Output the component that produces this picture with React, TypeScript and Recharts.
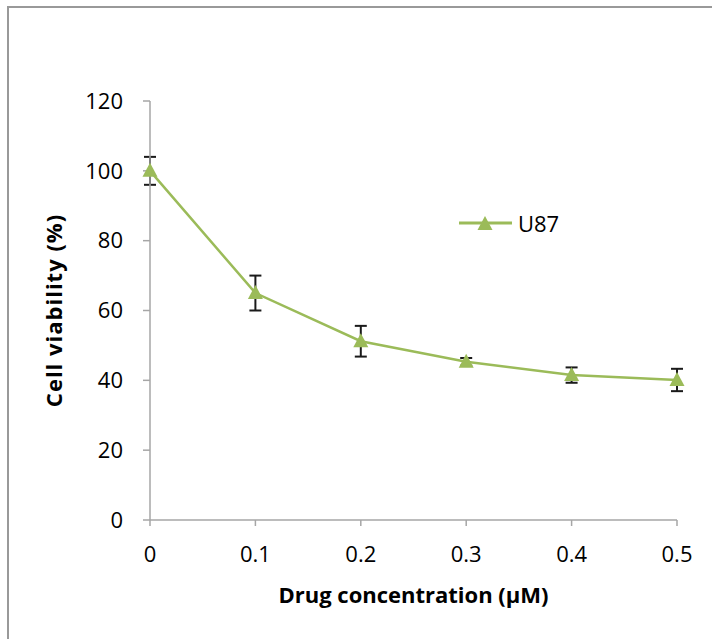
import { LineChart, Line, XAxis, YAxis, ErrorBar, Legend } from "recharts";

const concentrations = [0, 0.1, 0.2, 0.3, 0.4, 0.5];
const viability = [100, 65, 51.2, 45.3, 41.5, 40.1];
const viabilityErr = [4, 5, 4.4, 1.1, 2.2, 3.2];
const xTicks = [0, 0.1, 0.2, 0.3, 0.4, 0.5];
const yTicks = [0, 20, 40, 60, 80, 100, 120];

const data = concentrations.map((c, i) => ({
  conc: c,
  u87: viability[i],
  err: viabilityErr[i],
}));

const GREEN = "#9BBB59";
const AXIS = "#A6A6A6";
const FONT = "'Open Sans', sans-serif";

function Triangle(props: any) {
  const { cx, cy } = props;
  if (cx == null || cy == null) return null;
  return (
    <path
      d={`M${cx},${cy - 8} L${cx + 7.5},${cy + 6} L${cx - 7.5},${cy + 6} Z`}
      fill={GREEN}
      stroke="none"
    />
  );
}

function LegendBox() {
  return (
    <svg width={110} height={30}>
      <line x1={4} y1={14} x2={57} y2={14} stroke={GREEN} strokeWidth={3} />
      <path d="M30,7 L37.5,21 L22.5,21 Z" fill={GREEN} />
      <text x={63} y={23} fontSize={22} fontFamily={FONT} fill="#000">
        U87
      </text>
    </svg>
  );
}

export default function App() {
  return (
    <div
      style={{
        position: "fixed",
        left: 0,
        top: 0,
        width: 712,
        height: 639,
        overflow: "hidden",
        background: "#fff",
      }}
    >
      <div
        style={{
          position: "absolute",
          left: 7,
          top: 6,
          width: 760,
          height: 700,
          border: "2px solid #999",
        }}
      />
      <div style={{ position: "absolute", left: 0, top: 0 }}>
        <LineChart
          width={712}
          height={639}
          data={data}
          margin={{ top: 101, right: 35, bottom: 29, left: 50 }}
        >
          <XAxis
            dataKey="conc"
            type="number"
            domain={[0, 0.5]}
            ticks={xTicks}
            height={90}
            stroke={AXIS}
            strokeWidth={1.5}
            tickSize={6}
            tickMargin={20}
            tick={{ fill: "#000", fontSize: 22, fontFamily: FONT }}
            label={{
              value: "Drug concentration (μM)",
              position: "insideBottom",
              offset: 7,
              fill: "#000",
              fontSize: 22,
              fontWeight: 700,
              fontFamily: FONT,
            }}
          />
          <YAxis
            type="number"
            domain={[0, 120]}
            ticks={yTicks}
            width={100}
            stroke={AXIS}
            strokeWidth={1.5}
            tickSize={7}
            tickMargin={20}
            tick={{ fill: "#000", fontSize: 22, fontFamily: FONT }}
            label={{
              value: "Cell viability (%)",
              angle: -90,
              position: "insideLeft",
              offset: 0,
              dx: 4,
              fill: "#000",
              fontSize: 22,
              fontWeight: 700,
              fontFamily: FONT,
              style: { textAnchor: "middle", letterSpacing: 1 },
            }}
          />
          <Legend
            layout="vertical"
            align="center"
            verticalAlign="middle"
            content={() => <LegendBox />}
            wrapperStyle={{ position: "absolute", left: 455, top: 209, width: 110 }}
          />
          <Line
            type="linear"
            dataKey="u87"
            name="U87"
            stroke={GREEN}
            strokeWidth={2.5}
            dot={<Triangle />}
            activeDot={false}
            isAnimationActive={false}
          >
            <ErrorBar
              dataKey="err"
              width={6}
              stroke="#1a1a1a"
              strokeWidth={2}
              direction="y"
              isAnimationActive={false}
            />
          </Line>
        </LineChart>
      </div>
    </div>
  );
}
